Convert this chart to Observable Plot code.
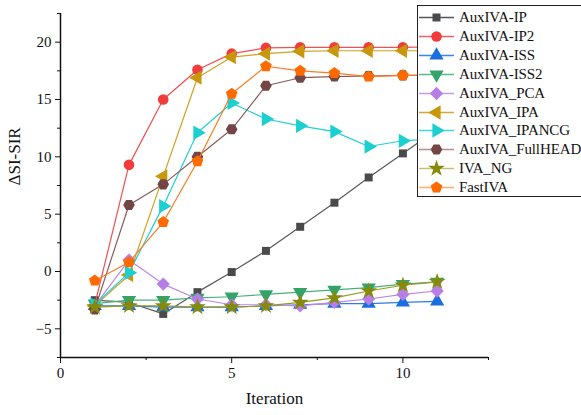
<!DOCTYPE html>
<html><head><meta charset="utf-8">
<script src="https://cdn.jsdelivr.net/npm/d3@7"></script>
<script src="https://cdn.jsdelivr.net/npm/@observablehq/plot@0.6"></script>
<style>
body{margin:0;overflow:hidden;background:#fff}
#wrap{position:relative;width:581px;height:415px;overflow:hidden;font-family:"Liberation Serif","Times New Roman",serif}
#legend{position:absolute;left:417px;top:5px;width:180px;height:192px;border:1.5px solid #222;background:#fff;box-sizing:border-box}
.row{position:absolute;left:0;height:19px;display:flex;align-items:center;font-size:15px;letter-spacing:-0.12px;white-space:nowrap;color:#111}
.row svg{display:block;margin-right:3px}
</style></head>
<body><div id="wrap"><div id="chart"></div><div id="legend"></div></div>
<script>
// ---- data ----
const iterations = [1, 2, 3, 4, 5, 6, 7, 8, 9, 10, 11];
const seriesNames = ["AuxIVA-IP", "AuxIVA-IP2", "AuxIVA-ISS", "AuxIVA-ISS2", "AuxIVA_PCA", "AuxIVA_IPA", "AuxIVA_IPANCG", "AuxIVA_FullHEAD", "IVA_NG", "FastIVA"];
const auxivaIP       = [-2.5, -2.7, -3.7, -1.8, -0.05, 1.8, 3.9, 6.0, 8.2, 10.3, 12.4];
const auxivaIP2      = [-2.9, 9.3, 15.0, 17.6, 19.0, 19.5, 19.55, 19.55, 19.55, 19.55, 19.6];
const auxivaISS      = [-3.0, -3.0, -3.1, -3.1, -3.1, -3.0, -2.9, -2.8, -2.8, -2.7, -2.6];
const auxivaISS2     = [-2.8, -2.5, -2.5, -2.3, -2.2, -2.0, -1.8, -1.6, -1.4, -1.1, -0.9];
const auxivaPCA      = [-3.0, 1.0, -1.1, -2.4, -2.9, -2.9, -3.0, -2.7, -2.4, -2.0, -1.7];
const auxivaIPA      = [-3.0, -0.3, 8.3, 16.9, 18.7, 19.0, 19.2, 19.25, 19.25, 19.25, 19.25];
const auxivaIPANCG   = [-2.9, -0.1, 5.7, 12.1, 14.7, 13.3, 12.7, 12.2, 10.9, 11.4, 11.6];
const auxivaFullHEAD = [-3.3, 5.8, 7.6, 10.0, 12.4, 16.2, 16.9, 17.0, 17.05, 17.1, 17.1];
const ivaNG          = [-3.1, -3.0, -3.0, -3.1, -3.1, -3.0, -2.7, -2.3, -1.7, -1.2, -0.9];
const fastIVA        = [-0.8, 0.8, 4.3, 9.6, 15.5, 17.9, 17.5, 17.3, 17.0, 17.1, 17.1];
const xTicks = [0, 5, 10];
const yTicks = [-5, 0, 5, 10, 15, 20];

const seriesValues = [auxivaIP, auxivaIP2, auxivaISS, auxivaISS2, auxivaPCA, auxivaIPA, auxivaIPANCG, auxivaFullHEAD, ivaNG, fastIVA];
const markerColors = ["#4a4a4a", "#f03c3c", "#1a6fe0", "#33a36a", "#b77ee6", "#c9970c", "#1ccfd0", "#744545", "#868a0a", "#ff6a00"];
const lineColors   = ["#5a5a5a", "#f05050", "#2d7be0", "#4caf7a", "#bb88e8", "#d0a020", "#20d0d0", "#8a5a5a", "#9a9a20", "#ff7a20"];
const legendLineColors = ["#555", "#f06060", "#3a85e6", "#5cb888", "#c49cec", "#d4a838", "#40d8d8", "#b09090", "#c4c470", "#ffaa70"];

// ---- symbols ----
const S3 = Math.sqrt(3);
function tri(angle) {
  return {draw(ctx, size) {
    const y = -Math.sqrt(size / (S3 * 3));
    const pts = [[0, 2 * y], [-S3 * y, -y], [S3 * y, -y]];
    const c = Math.cos(angle), s = Math.sin(angle);
    pts.forEach(([px, py], i) => {
      const qx = px * c - py * s, qy = px * s + py * c;
      i ? ctx.lineTo(qx, qy) : ctx.moveTo(qx, qy);
    });
    ctx.closePath();
  }};
}
function polygon(n, rot, areaK) {
  return {draw(ctx, size) {
    const R = Math.sqrt(size / areaK);
    for (let i = 0; i < n; i++) {
      const a = rot + i * 2 * Math.PI / n;
      const px = R * Math.cos(a), py = R * Math.sin(a);
      i ? ctx.lineTo(px, py) : ctx.moveTo(px, py);
    }
    ctx.closePath();
  }};
}
const symSquare = {draw(ctx, size) { const w = Math.sqrt(size) * 0.85; ctx.rect(-w / 2, -w / 2, w, w); }};
const symCircle = {draw(ctx, size) { const r = Math.sqrt(size / Math.PI); ctx.moveTo(r, 0); ctx.arc(0, 0, r, 0, 2 * Math.PI); }};
const symbols = [
  symSquare,
  symCircle,
  tri(0),
  tri(Math.PI),
  polygon(4, -Math.PI / 2, 2),
  tri(-Math.PI / 2),
  tri(Math.PI / 2),
  polygon(6, 0, 2.598),
  d3.symbolStar,
  polygon(5, -Math.PI / 2, 2.378)
];

// ---- chart ----
const marks = [];
seriesNames.forEach((name, k) => {
  const rows = iterations.map((it, i) => ({it, v: seriesValues[k][i]}));
  marks.push(Plot.line(rows, {x: "it", y: "v", stroke: lineColors[k], strokeWidth: 1.2}));
  marks.push(Plot.dot(rows, {x: "it", y: "v", symbol: symbols[k], r: 5.3, fill: markerColors[k], stroke: "none"}));
});

const chart = Plot.plot({
  width: 581, height: 415,
  marginLeft: 60, marginRight: 93, marginTop: 13, marginBottom: 58,
  style: {fontFamily: '"Liberation Serif","Times New Roman",serif', fontSize: "15px", color: "#111", background: "#fff"},
  x: {domain: [0, 12.5]},
  y: {domain: [-7.5, 22.5]},
  marks: [
    ...marks,
    Plot.axisX({ticks: xTicks, tickSize: 6, tickPadding: 4, label: null, fontSize: 15}),
    Plot.axisX({ticks: [2.5, 7.5, 12.5], tickSize: 3, tickFormat: () => "", label: null}),
    Plot.axisY({ticks: yTicks, tickSize: 5, tickPadding: 4, label: null, fontSize: 15}),
    Plot.axisY({ticks: [-7.5, -2.5, 2.5, 7.5, 12.5, 17.5, 22.5], tickSize: 3, tickFormat: () => "", label: null}),
    Plot.ruleX([0], {stroke: "#111", strokeWidth: 1.5}),
    Plot.ruleY([-7.5], {stroke: "#111", strokeWidth: 1.5}),
    Plot.text(["Iteration"], {frameAnchor: "bottom", dy: 46, fontSize: 17}),
    Plot.text(["ΔSI-SIR"], {frameAnchor: "left", dx: -46, rotate: -90, fontSize: 17})
  ]
});
document.getElementById("chart").appendChild(chart);

// ---- legend ----
const legend = document.getElementById("legend");
seriesNames.forEach((name, k) => {
  const row = document.createElement("div");
  row.className = "row";
  row.style.top = (2 + k * 18.9) + "px";
  const p = d3.path();
  symbols[k].draw(p, Math.PI * 5.3 * 5.3);
  row.innerHTML = `<svg width="38" height="19"><line x1="1" x2="36" y1="9.5" y2="9.5" stroke="${legendLineColors[k]}" stroke-width="1.5"/><path transform="translate(18.5,9.5)" d="${p.toString()}" fill="${markerColors[k]}"/></svg><span>${name}</span>`;
  legend.appendChild(row);
});
</script>
</body></html>
